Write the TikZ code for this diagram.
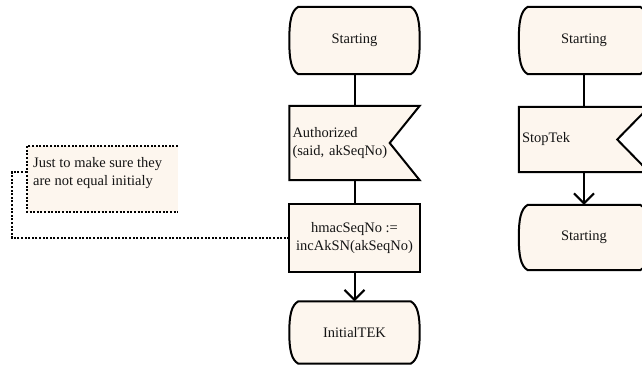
\documentclass[tikz,border=0pt]{standalone}
\usepackage{fontspec}
\setmainfont{Liberation Serif}
\usetikzlibrary{arrows.meta,calc,backgrounds}
\definecolor{sdlfill}{RGB}{253,246,238}
\definecolor{ink}{RGB}{20,20,20}
\tikzset{
  shp/.style={draw=black, fill=sdlfill, line width=2pt, line join=miter},
  lbl/.style={font=\fontsize{14.5}{18}\selectfont, text=ink, inner sep=0pt},
  termnode/.style={lbl, minimum width=130pt, minimum height=#1, align=center},
  innode/.style={lbl, text width=124pt, inner xsep=3pt, minimum height=#1, align=left},
  tasknode/.style={lbl, minimum width=130pt, minimum height=67pt, align=center},
  cmnode/.style={lbl, align=left, anchor=west},
  flow/.style={draw=black, line width=2pt},
  flowarrow/.style={flow, -{Straight Barb[length=10pt,width=20pt]}},
  dotline/.style={draw=black, line width=2pt, dash pattern=on 2pt off 1.6pt}
}
\newcommand\drawterm[1]{%
  \path[shp] ([xshift=9pt]#1.north west) -- ([xshift=-9pt]#1.north east)
    .. controls ([xshift=-2pt,yshift=-4pt]#1.north east) and ([yshift=-14pt]#1.north east) .. (#1.east)
    .. controls ([yshift=14pt]#1.south east) and ([xshift=-2pt,yshift=4pt]#1.south east) .. ([xshift=-9pt]#1.south east)
    -- ([xshift=9pt]#1.south west)
    .. controls ([xshift=2pt,yshift=4pt]#1.south west) and ([yshift=14pt]#1.south west) .. (#1.west)
    .. controls ([yshift=-14pt]#1.north west) and ([xshift=2pt,yshift=-4pt]#1.north west) .. cycle;}
\newcommand\drawinput[2]{%
  \path[shp] (#1.north west) -- (#1.north east) -- ([xshift=-#2]#1.east)
    -- (#1.south east) -- (#1.south west) -- cycle;}
\newcommand\drawtask[1]{%
  \path[shp] (#1.north west) rectangle (#1.south east);}
\begin{document}
\begin{tikzpicture}[x=1pt,y=-1pt]
\path[use as bounding box] (0,0) rectangle (642,370);
% left column
\node[termnode=67pt] (s1) at (354.5,40.5) {Starting};
\node[innode=74pt] (a1) at (354.5,143) {Authorized\\(said, akSeqNo)};
\node[tasknode] (t1) at (354.5,238) {hmacSeqNo :=\\incAkSN(akSeqNo)};
\node[termnode=62pt] (e1) at (354.5,332.5) {InitialTEK};
% right column
\node[termnode=67pt] (s2) at (584,40.5) {Starting};
\node[innode=65pt] (a2) at (584,139.5) {StopTek};
\node[termnode=65pt] (e2) at (584,237.5) {Starting};
% comment
\node[cmnode] (cm) at (33,173.5) {Just to make sure they\\are not equal initialy};
\coordinate (cmtl) at (27,146);
\coordinate (cmtr) at (178,146);
\coordinate (cmbl) at (27,212);
\coordinate (cmbr) at (178,212);
\coordinate (cmw) at (27,172);
\begin{pgfonlayer}{background}
  \drawterm{s1}
  \drawinput{a1}{30pt}
  \drawtask{t1}
  \drawterm{e1}
  \drawterm{s2}
  \drawinput{a2}{32pt}
  \drawterm{e2}
  \fill[sdlfill] (cmtl) rectangle (cmbr);
  \draw[dotline] (cmtr) -- (cmtl) -- (cmbl) -- (cmbr);
\end{pgfonlayer}
% connectors
\draw[flow] (s1.south) -- (a1.north);
\draw[flow] (a1.south) -- (t1.north);
\draw[flowarrow] (t1.south) -- (e1.north);
\draw[flow] (s2.south) -- (a2.north);
\draw[flowarrow] (a2.south) -- (e2.north);
\draw[dotline] (t1.west) -- ++(-277.5,0) |- (cmw);
\end{tikzpicture}
\end{document}
